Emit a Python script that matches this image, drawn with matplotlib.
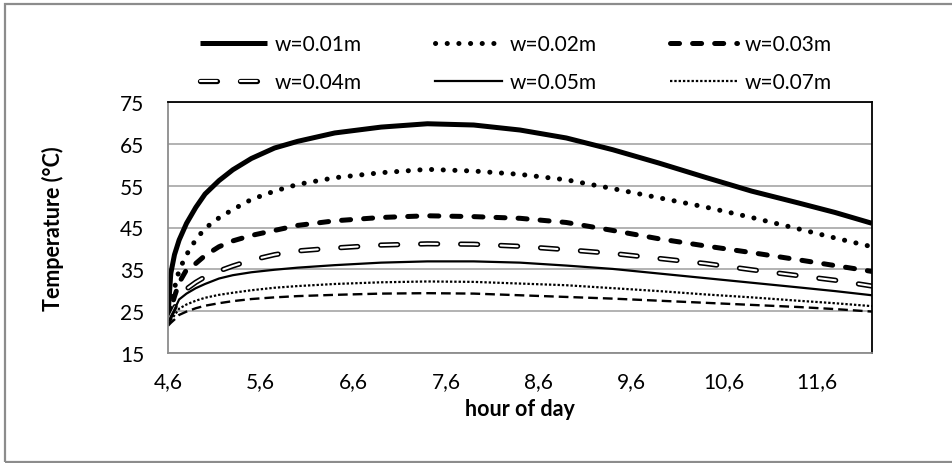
import matplotlib
matplotlib.use("Agg")
import matplotlib.pyplot as plt
from matplotlib.legend_handler import HandlerTuple
from matplotlib.patches import Rectangle

plt.rcParams['font.family'] = ['Lato', 'DejaVu Sans']
plt.rcParams['lines.scale_dashes'] = False

hours = [4.6, 4.63, 4.67, 4.72, 4.8, 4.9, 5.0, 5.15, 5.3, 5.5, 5.75, 6.0, 6.4,
         6.9, 7.4, 7.9, 8.4, 8.9, 9.4, 9.9, 10.4, 10.9, 11.4, 11.8, 12.2]

t_001 = [24.0, 34.0, 38.5, 42.0, 46.0, 49.8, 53.0, 56.2, 58.8, 61.5, 64.0, 65.6, 67.6,
         69.0, 69.8, 69.5, 68.3, 66.4, 63.6, 60.4, 57.0, 53.7, 50.9, 48.6, 46.0]
t_002 = [23.0, 27.0, 30.5, 34.8, 38.5, 42.1, 44.8, 47.3, 49.3, 51.7, 53.7, 55.3, 56.9,
         58.1, 58.9, 58.5, 57.7, 56.4, 54.3, 52.1, 49.9, 47.4, 44.7, 42.5, 40.4]
t_003 = [22.6, 25.5, 28.5, 31.8, 34.9, 36.4, 38.3, 40.4, 41.8, 43.1, 44.3, 45.5, 46.6,
         47.4, 47.8, 47.6, 47.2, 46.2, 44.3, 42.3, 40.6, 39.0, 37.3, 35.9, 34.5]
t_004 = [22.4, 24.0, 25.8, 28.0, 30.3, 31.9, 33.2, 34.6, 35.8, 37.2, 38.5, 39.4, 40.1,
         40.8, 41.1, 41.0, 40.5, 39.7, 38.8, 37.6, 36.4, 34.9, 33.5, 32.4, 31.0]
t_005 = [22.2, 23.7, 25.4, 27.8, 29.2, 30.5, 31.5, 32.8, 33.6, 34.3, 34.9, 35.4, 36.0,
         36.6, 36.9, 36.9, 36.6, 35.9, 35.1, 34.0, 32.9, 31.8, 30.7, 29.8, 28.8]
t_007 = [22.0, 22.9, 24.0, 25.6, 26.6, 27.5, 28.2, 28.9, 29.4, 30.0, 30.6, 31.0, 31.5,
         31.9, 32.1, 32.0, 31.6, 31.2, 30.5, 29.8, 29.0, 28.3, 27.5, 26.9, 26.2]
t_010 = [21.5, 22.2, 23.0, 24.1, 24.9, 25.7, 26.3, 26.9, 27.4, 27.9, 28.3, 28.6, 28.9,
         29.2, 29.3, 29.2, 28.8, 28.4, 28.0, 27.5, 27.0, 26.5, 26.0, 25.5, 24.9]

labels = ['w=0.01m', 'w=0.02m', 'w=0.03m', 'w=0.04m', 'w=0.05m', 'w=0.07m']
xticks = [4.6, 5.6, 6.6, 7.6, 8.6, 9.6, 10.6, 11.6]
yticks = [15, 25, 35, 45, 55, 65, 75]

fig = plt.figure(figsize=(9.52, 4.64), dpi=100)
ax = fig.add_axes([168 / 952, 1 - 354 / 464, 704 / 952, 251 / 464])

# outer chart frame
fig.patches.append(Rectangle((4.7 / 952, 1.3 / 464), 1.2, 1 - 6 / 464, transform=fig.transFigure,
                             fill=False, edgecolor='#8c8c8c', linewidth=1.6, zorder=0))

l1, = ax.plot(hours, t_001, color='black', lw=3.6, solid_capstyle='butt', solid_joinstyle='round')
l2, = ax.plot(hours, t_002, color='black', lw=3.6, dashes=(0.1, 8.3), dash_capstyle='round')
l3, = ax.plot(hours, t_003, color='black', lw=3.6, dashes=(6.5, 9.4), dash_capstyle='round')
l4a, = ax.plot(hours, t_004, color='black', lw=3.8, dashes=(12.2, 16.6), dash_capstyle='round')
l4b, = ax.plot(hours, t_004, color='white', lw=1.5, dashes=(12.2, 16.6), dash_capstyle='round')
l5, = ax.plot(hours, t_005, color='black', lw=1.6, solid_joinstyle='round')
l7, = ax.plot(hours, t_007, color='black', lw=1.6, dashes=(1.7, 1.4), dash_capstyle='butt')
l10, = ax.plot(hours, t_010, color='black', lw=1.7, dashes=(7, 3.6), dash_capstyle='butt')

ax.set_xlim(4.6, 12.2)
ax.set_ylim(15, 75)
ax.set_xticks(xticks)
ax.set_xticklabels([('%.1f' % v).replace('.', ',') for v in xticks])
ax.set_yticks(yticks)
ax.tick_params(length=0, labelsize=15)
ax.tick_params(axis='x', pad=13)
ax.tick_params(axis='y', pad=17)
ax.grid(axis='y', color='#a6a6a6', lw=1.2)
ax.set_axisbelow(True)

for s in ['left', 'bottom']:
    ax.spines[s].set_color('#8c8c8c')
    ax.spines[s].set_linewidth(1.3)
for s in ['top', 'right']:
    ax.spines[s].set_color('black')
    ax.spines[s].set_linewidth(1.3)

ax.set_xlabel('hour of day', fontsize=15.5, fontweight='bold')
ax.xaxis.label.set_va('center')
ax.xaxis.set_label_coords(0.5, -0.223)
ax.set_ylabel('Temperature (°C)', fontsize=15.5, fontweight='bold')
ax.yaxis.label.set_va('center')
ax.yaxis.set_label_coords(-0.163, 0.5)

handles = [l1, (l4a, l4b), l2, l5, l3, l7]
leg_labels = [labels[0], labels[3], labels[1], labels[4], labels[2], labels[5]]
fig.legend(handles, leg_labels, ncol=3, frameon=False, fontsize=15,
           handlelength=3.2, handletextpad=0.4, columnspacing=3.5, labelspacing=0.85,
           handler_map={tuple: HandlerTuple(ndivide=1)},
           loc='center', bbox_to_anchor=(516 / 952, 1 - 64 / 464))

plt.savefig('out.png', dpi=100)
